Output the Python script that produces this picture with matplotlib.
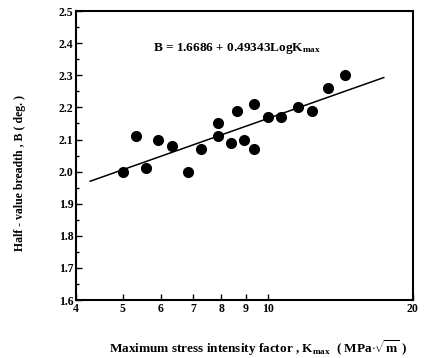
import matplotlib
matplotlib.use("Agg")
import matplotlib.pyplot as plt
from matplotlib.ticker import FixedLocator, NullFormatter, MultipleLocator, LogLocator

plt.rcParams['font.family'] = ['Liberation Serif', 'DejaVu Serif']
plt.rcParams['mathtext.fontset'] = 'custom'
plt.rcParams['mathtext.rm'] = 'Liberation Serif:bold'
plt.rcParams['mathtext.it'] = 'Liberation Serif:bold'
plt.rcParams['mathtext.bf'] = 'Liberation Serif:bold'

kmax = [5.00, 5.32, 5.58, 5.93, 6.32, 6.83, 7.27, 7.87, 7.87, 8.39,
        8.65, 8.93, 9.35, 9.38, 10.0, 10.65, 11.53, 12.33, 13.31, 14.43]
breadth = [2.00, 2.11, 2.01, 2.10, 2.08, 2.00, 2.07, 2.15, 2.11, 2.09,
           2.19, 2.10, 2.21, 2.07, 2.17, 2.17, 2.20, 2.19, 2.26, 2.30]
fit_x = [4.28, 17.4]
fit_y = [1.970, 2.293]
x_ticks = [4, 5, 6, 7, 8, 9, 10, 20]
y_ticks = [1.6, 1.7, 1.8, 1.9, 2.0, 2.1, 2.2, 2.3, 2.4, 2.5]

fig = plt.figure(figsize=(4.27, 3.58), dpi=100)
ax = fig.add_axes([0.178, 0.162, 0.789, 0.807])

ax.plot(fit_x, fit_y, color='black', lw=1.1)
ax.plot(kmax, breadth, 'o', color='black', markersize=7)

ax.set_xscale('log')
ax.set_xlim(4, 20)
ax.set_ylim(1.6, 2.5)
ax.xaxis.set_major_locator(FixedLocator(x_ticks))
ax.xaxis.set_minor_locator(LogLocator(base=10, subs=[1,2,3,4,5,6,7,8,9]))
ax.xaxis.set_minor_formatter(NullFormatter())
ax.set_xticklabels([str(t) for t in x_ticks])
ax.yaxis.set_major_locator(FixedLocator(y_ticks))
ax.yaxis.set_minor_locator(MultipleLocator(0.05))
ax.set_yticklabels([f"{t:.1f}" for t in y_ticks])

ax.tick_params(which='both', direction='in', labelsize=8.5, width=1.0)
ax.tick_params(which='major', length=4, pad=2)
ax.tick_params(which='minor', length=2)
for lab in ax.get_xticklabels() + ax.get_yticklabels():
    lab.set_fontweight('bold')
for s in ax.spines.values():
    s.set_linewidth(1.5)

ax.text(5.77, 2.385, r"B = 1.6686 + 0.49343LogK$_{\rm max}$", fontsize=9.5,
        fontweight='bold', ha='left', va='center')

ax.set_xlabel(r"Maximum stress intensity factor , K$_{\rm max}$  ( MPa$\cdot\sqrt{\rm m}$ )",
              fontsize=9.5, fontweight='bold', va='center')
ax.xaxis.set_label_coords(0.54, -0.165)
ax.set_ylabel("Half - value breadth , B ( deg. )", fontsize=8.5, fontweight='bold', va='center')
ax.yaxis.set_label_coords(-0.165, 0.44)

fig.savefig("out.png", dpi=100)
